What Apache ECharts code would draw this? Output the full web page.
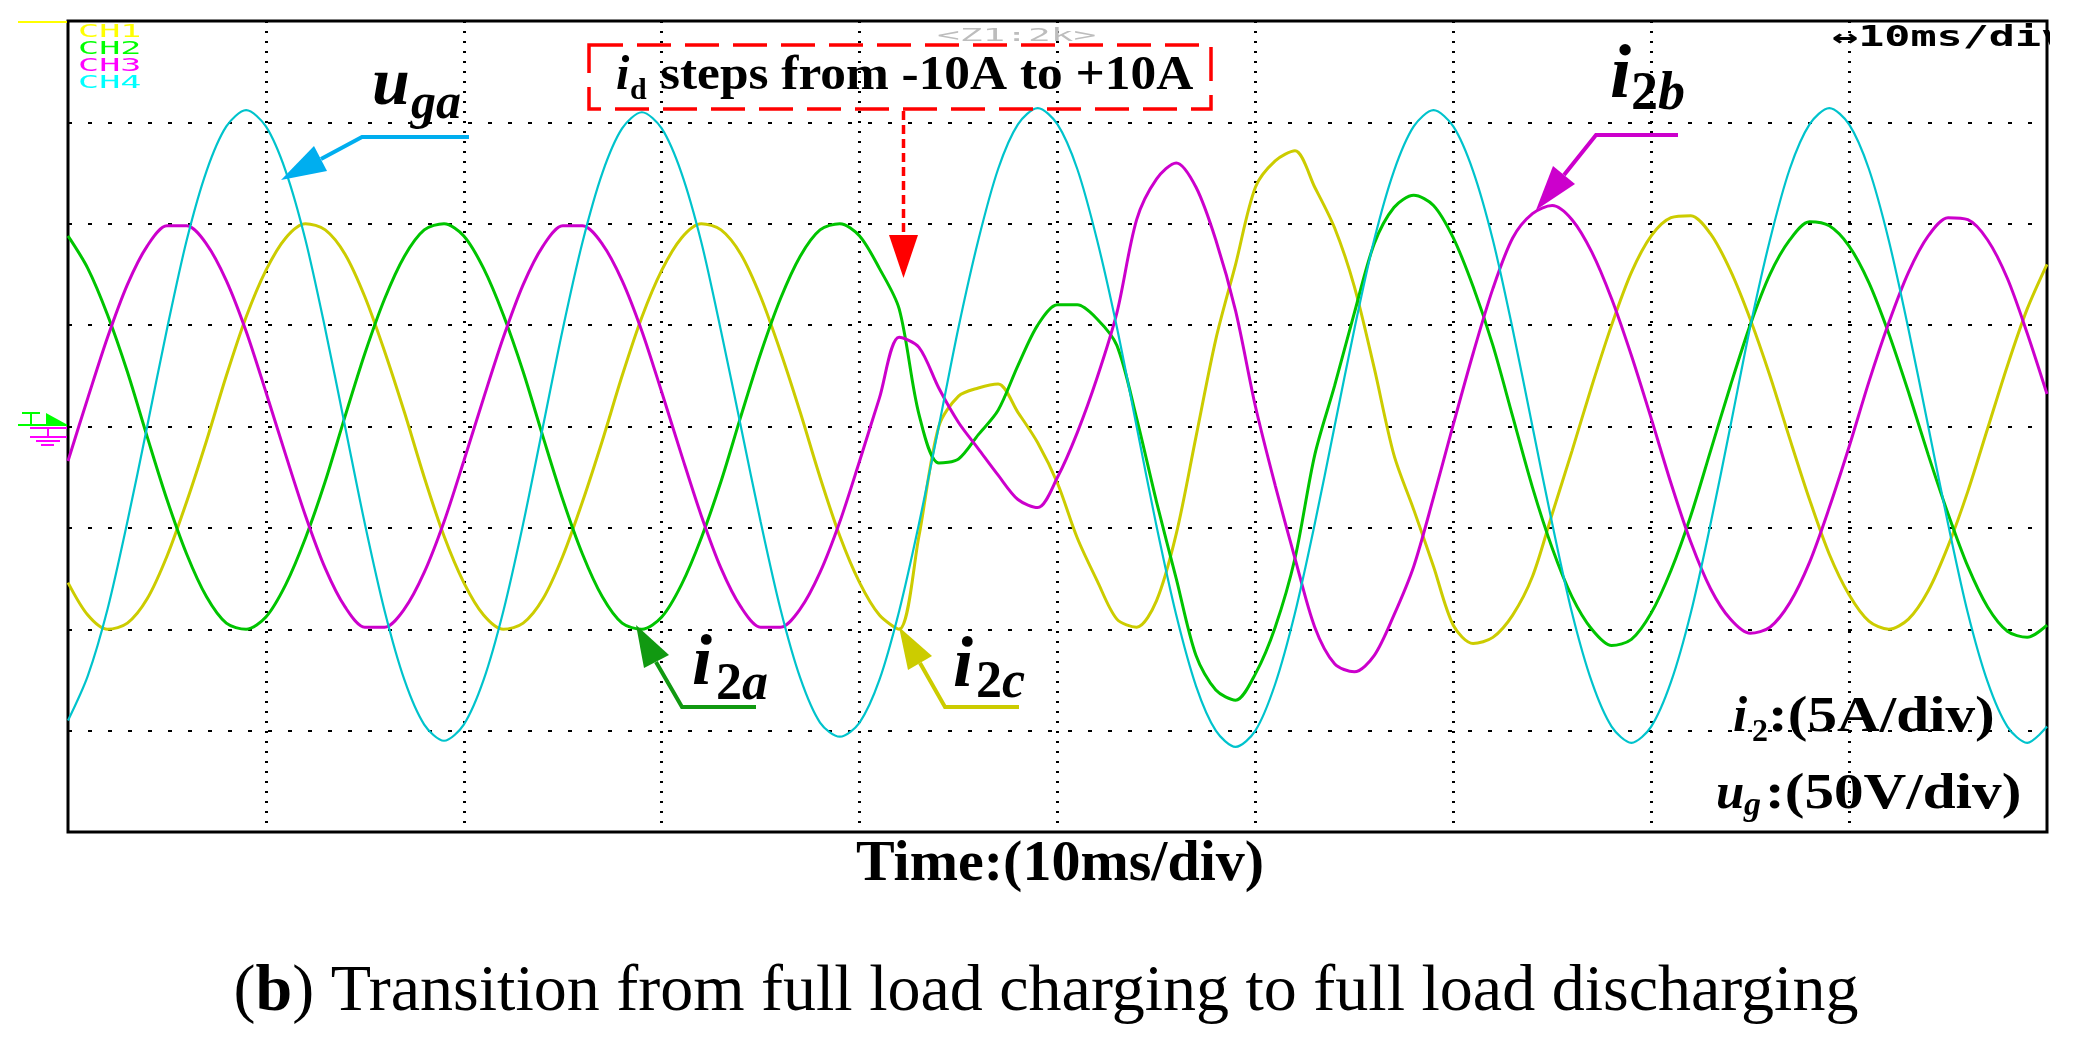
<!DOCTYPE html>
<html>
<head>
<meta charset="utf-8">
<title>Transition from full load charging to full load discharging</title>
<script src="https://cdn.jsdelivr.net/npm/echarts@6.0.0/dist/echarts.min.js"></script>
<style>
  html, body { margin: 0; padding: 0; background: #fff; }
  #scope { width: 2077px; height: 1054px; }
</style>
</head>
<body>
<div id="scope"></div>
<script>
  // time base, 10 ms/div, read every 1 ms
  const timeMs = [
    0, 1, 2, 3, 4, 5, 6, 7, 8, 9,
    10, 11, 12, 13, 14, 15, 16, 17, 18, 19,
    20, 21, 22, 23, 24, 25, 26, 27, 28, 29,
    30, 31, 32, 33, 34, 35, 36, 37, 38, 39,
    40, 41, 42, 43, 44, 45, 46, 47, 48, 49,
    50, 51, 52, 53, 54, 55, 56, 57, 58, 59,
    60, 61, 62, 63, 64, 65, 66, 67, 68, 69,
    70, 71, 72, 73, 74, 75, 76, 77, 78, 79,
    80, 81, 82, 83, 84, 85, 86, 87, 88, 89,
    90, 91, 92, 93, 94, 95, 96, 97, 98, 99,
    100,
  ];

  // CH1 i2c (A)
  const i2cA = [
    -7.7, -9.3, -10.0, -9.7, -8.5, -6.4, -3.7, -0.7, 2.5, 5.4,
    7.7, 9.3, 10.0, 9.7, 8.5, 6.4, 3.7, 0.7, -2.5, -5.4,
    -7.7, -9.3, -10.0, -9.7, -8.5, -6.4, -3.7, -0.7, 2.5, 5.4,
    7.7, 9.3, 10.0, 9.7, 8.5, 6.4, 3.7, 0.7, -2.5, -5.4,
    -7.7, -9.3, -10.0, -5.4, 0.0, 1.5, 1.9, 2.1, 0.7, -0.8,
    -2.8, -5.5, -7.6, -9.5, -9.9, -8.6, -5.3, -0.5, 4.3, 8.0,
    11.8, 13.1, 13.6, 11.8, 9.8, 6.9, 2.9, -1.4, -4.1, -6.9,
    -9.8, -10.7, -10.4, -9.3, -7.4, -4.3, -1.2, 2.0, 5.0, 7.6,
    9.4, 10.3, 10.4, 9.5, 7.7, 5.3, 2.5, -0.6, -3.6, -6.3,
    -8.3, -9.6, -10.0, -9.5, -8.1, -5.9, -3.2, -0.1, 3.0, 5.8,
    8.0,
  ];

  // CH2 i2a (A)
  const i2aA = [
    9.4, 7.8, 5.5, 2.7, -0.5, -3.6, -6.3, -8.4, -9.7, -10.0,
    -9.4, -7.8, -5.5, -2.7, 0.5, 3.6, 6.3, 8.4, 9.7, 10.0,
    9.4, 7.8, 5.5, 2.7, -0.5, -3.6, -6.3, -8.4, -9.7, -10.0,
    -9.4, -7.8, -5.5, -2.7, 0.5, 3.6, 6.3, 8.4, 9.7, 10.0,
    9.4, 7.8, 5.8, 0.6, -1.8, -1.6, -0.4, 0.8, 3.0, 5.0,
    6.0, 6.0, 5.3, 4.0, 0.4, -3.7, -7.5, -11.3, -13.0, -13.5,
    -12.2, -9.9, -6.5, -1.4, 2.0, 5.6, 9.0, 10.8, 11.4, 10.9,
    9.3, 6.9, 4.0, 0.5, -3.0, -6.0, -8.4, -10.0, -10.8, -10.5,
    -9.2, -7.1, -4.4, -1.2, 2.0, 5.0, 7.5, 9.2, 10.1, 9.9,
    8.9, 7.1, 4.6, 1.7, -1.4, -4.3, -6.9, -8.9, -10.1, -10.4,
    -9.8,
  ];

  // CH3 i2b (A)
  const i2bA = [
    -1.7, 1.4, 4.4, 7.0, 8.9, 9.9, 9.9, 9.0, 7.2, 4.7,
    1.7, -1.4, -4.4, -7.0, -8.9, -9.9, -9.9, -9.0, -7.2, -4.7,
    -1.7, 1.4, 4.4, 7.0, 8.9, 9.9, 9.9, 9.0, 7.2, 4.7,
    1.7, -1.4, -4.4, -7.0, -8.9, -9.9, -9.9, -9.0, -7.2, -4.7,
    -1.7, 1.4, 4.4, 3.9, 1.9, 0.2, -1.1, -2.4, -3.6, -4.0,
    -2.5, -0.3, 2.4, 5.6, 10.2, 12.2, 13.0, 11.8, 9.2, 5.7,
    1.0, -2.9, -6.5, -9.9, -11.7, -12.1, -11.3, -9.3, -6.9, -3.5,
    0.1, 3.6, 6.8, 9.3, 10.5, 10.9, 10.2, 8.6, 6.3, 3.5,
    0.4, -2.8, -5.7, -8.0, -9.5, -10.2, -9.9, -8.7, -6.7, -4.0,
    -1.0, 2.2, 5.1, 7.6, 9.4, 10.3, 10.2, 9.2, 7.3, 4.6,
    1.6,
  ];

  // CH4 uga (V)
  const ugaV = [
    -145, -123, -90, -47, 0, 48, 92, 126, 148, 156,
    148, 126, 92, 48, 0, -48, -91, -125, -147, -155,
    -147, -125, -91, -48, 0, 48, 91, 125, 147, 155,
    147, 125, 91, 47, 0, -47, -90, -124, -146, -153,
    -146, -125, -91, -48, 0, 49, 92, 127, 149, 157,
    149, 127, 92, 49, 0, -49, -93, -128, -150, -158,
    -150, -127, -92, -48, 0, 48, 92, 126, 148, 156,
    148, 126, 92, 48, 0, -48, -92, -126, -148, -156,
    -148, -126, -92, -48, 0, 49, 92, 127, 149, 157,
    149, 127, 92, 48, 0, -48, -92, -126, -148, -156,
    -148,
  ];

  const channelNames = ['CH1', 'CH2', 'CH3', 'CH4'];
  const channelColors = ['#ffff00', '#00ff00', '#ff00ff', '#00ffff'];
  const traceColors = ['#cccc00', '#00c400', '#cc00cc', '#00c3cc'];

  const SERIF = '"Liberation Serif", "Times New Roman", serif';
  const MONO = '"DejaVu Sans Mono", "Liberation Mono", monospace';

  const chartDom = document.getElementById('scope');
  const chart = echarts.init(chartDom, null, { renderer: 'canvas' });

  const pair = (vals) => timeMs.map((t, i) => [t, vals[i]]);

  // text placed by baseline (y is the alphabetic baseline)
  const text = (x, baseY, str, size, o = {}) => ({
    type: 'text',
    x,
    y: baseY - 0.34 * size,
    z: 100,
    scaleX: o.scaleX || 1,
    style: {
      text: str,
      fill: o.color || '#000',
      font: `${o.italic ? 'italic' : 'normal'} ${o.weight || 'bold'} ${size}px ${o.family || SERIF}`,
      textAlign: o.align || 'left',
      align: o.align || 'left',
      textVerticalAlign: 'middle',
      verticalAlign: 'middle',
    },
  });

  const line = (points, color, width, dash) => ({
    type: 'polyline',
    z: 100,
    shape: { points },
    style: { stroke: color, lineWidth: width, fill: null, lineDash: dash || null },
  });

  const head = (points, color) => ({
    type: 'polygon',
    z: 100,
    shape: { points },
    style: { fill: color },
  });

  const graphics = [
    // screen labels
    ...channelNames.map((n, i) => text(78, 38 + i * 17, n, 18, { family: MONO, weight: 'normal', color: channelColors[i], scaleX: 1.95 })),
    text(937, 42, '<Z1:2k>', 18, { family: MONO, weight: 'normal', color: '#bdbdbd', scaleX: 2.1 }),
    text(1832, 48, '\u219410ms/div', 28, { family: MONO, weight: 'bold', scaleX: 1.55 }),
    { type: 'rect', z: 101, shape: { x: 2050, y: 0, width: 27, height: 120 }, style: { fill: '#fff' } },

    // ground / level markers
    line([[18, 22], [67, 22]], '#ffff00', 2),
    line([[18, 425], [67, 425]], '#00ff00', 2),
    line([[22, 413], [40, 413]], '#00ff00', 2),
    line([[31, 413], [31, 424]], '#00ff00', 2),
    head([[46, 413], [66, 424], [46, 425]], '#00ff00'),
    line([[30, 428], [67, 428]], '#ff00ff', 2),
    line([[48, 428], [48, 437]], '#ff00ff', 2),
    line([[30, 437], [67, 437]], '#ff00ff', 2),
    line([[36, 441], [60, 441]], '#ff00ff', 2),
    line([[41, 445], [54, 445]], '#ff00ff', 2),

    // u_ga
    text(372, 110, 'u', 68, { italic: true }),
    text(411, 122, 'ga', 50, { italic: true }),
    line([[469, 137], [362, 137], [321, 159]], '#00aeef', 4),
    head([[281, 180], [327, 171], [314, 146]], '#00aeef'),

    // i_d step note
    {
      type: 'rect',
      z: 100,
      shape: { x: 589, y: 45, width: 622, height: 64 },
      style: { fill: null, stroke: '#ff0000', lineWidth: 3.5, lineDash: [34, 14] },
    },
    text(616, 93, 'i', 48, { italic: true }),
    text(630, 101, 'd', 30),
    text(660, 93, 'steps from -10A to +10A', 48, { scaleX: 1.07 }),
    line([[903.5, 111], [903.5, 236]], '#ff0000', 3.5, [9, 5]),
    head([[889, 235], [918, 235], [903.5, 278]], '#ff0000'),

    // i_2b
    text(1610, 103, 'i', 76, { italic: true }),
    text(1631, 113, '2', 54),
    text(1658, 113, 'b', 54, { italic: true }),
    line([[1678, 135], [1596, 135], [1564, 175]], '#cc00cc', 4),
    head([[1536, 210], [1575, 184], [1553, 166]], '#cc00cc'),

    // i_2a
    text(692, 690, 'i', 72, { italic: true }),
    text(716, 703, '2', 52),
    text(742, 703, 'a', 52, { italic: true }),
    line([[756, 707], [682, 707], [656, 662]], '#119911', 4),
    head([[636, 625], [669, 655], [644, 668]], '#119911'),

    // i_2c
    text(953, 692, 'i', 72, { italic: true }),
    text(976, 701, '2', 52),
    text(1002, 701, 'c', 52, { italic: true }),
    line([[1019, 707], [945, 707], [920, 663]], '#cccc00', 4),
    head([[899, 627], [932, 656], [908, 670]], '#cccc00'),

    // scales
    text(1733, 735, 'i', 51, { italic: true }),
    text(1752, 744, '2', 32),
    text(1768, 735, ':(5A/div)', 51, { scaleX: 1.16 }),
    text(1716, 812, 'u', 51, { italic: true }),
    text(1744, 818, 'g', 34, { italic: true }),
    text(1765, 812, ':(50V/div)', 51, { scaleX: 1.16 }),

    // axis title and caption
    text(1060, 885, 'Time:(10ms/div)', 58, { align: 'center' }),
    {
      type: 'text',
      x: 1046,
      y: 1015 - 0.34 * 66,
      z: 100,
      style: {
        text: '{n|(}{b|b}{n|) Transition from full load charging to full load discharging}',
        textAlign: 'center',
        align: 'center',
        textVerticalAlign: 'middle',
        verticalAlign: 'middle',
        rich: {
          n: { fontSize: 66, fontFamily: SERIF, fontWeight: 'normal', color: '#000', fill: '#000' },
          b: { fontSize: 66, fontFamily: SERIF, fontWeight: 'bold', color: '#000', fill: '#000' },
        },
      },
    },
  ];

  const option = {
    animation: false,
    backgroundColor: '#fff',
    grid: {
      left: 68,
      top: 21,
      width: 1979,
      height: 811,
      show: true,
      borderColor: '#000',
      borderWidth: 3,
      containLabel: false,
      outerBoundsMode: 'none',
    },
    xAxis: {
      type: 'value',
      min: 0,
      max: 100,
      interval: 10,
      axisLine: { show: false },
      axisTick: { show: false },
      axisLabel: { show: false },
      splitLine: {
        show: true,
        showMinLine: false,
        showMaxLine: false,
        lineStyle: { color: '#000', width: 3, type: [2, 8] },
      },
    },
    yAxis: [
      {
        type: 'value',
        min: -20,
        max: 20,
        interval: 5,
        axisLine: { show: false },
        axisTick: { show: false },
        axisLabel: { show: false },
        splitLine: {
          show: true,
          showMinLine: false,
          showMaxLine: false,
          lineStyle: { color: '#000', width: 2, type: [4, 16] },
        },
      },
      {
        type: 'value',
        min: -200,
        max: 200,
        interval: 50,
        show: false,
        splitLine: { show: false },
      },
    ],
    series: [
      { name: 'i2c', data: pair(i2cA), yAxisIndex: 0, color: traceColors[0], lineWidth: 3 },
      { name: 'i2a', data: pair(i2aA), yAxisIndex: 0, color: traceColors[1], lineWidth: 3 },
      { name: 'i2b', data: pair(i2bA), yAxisIndex: 0, color: traceColors[2], lineWidth: 3 },
      { name: 'uga', data: pair(ugaV), yAxisIndex: 1, color: traceColors[3], lineWidth: 2.2 },
    ].map((s) => ({
      name: s.name,
      type: 'line',
      yAxisIndex: s.yAxisIndex,
      data: s.data,
      smooth: 0.3,
      showSymbol: false,
      symbol: 'none',
      lineStyle: { color: s.color, width: s.lineWidth },
      itemStyle: { color: s.color },
    })),
    graphic: graphics,
  };

  chart.setOption(option);

  window.addEventListener('resize', () => {
    chart.resize();
  });
</script>
</body>
</html>
